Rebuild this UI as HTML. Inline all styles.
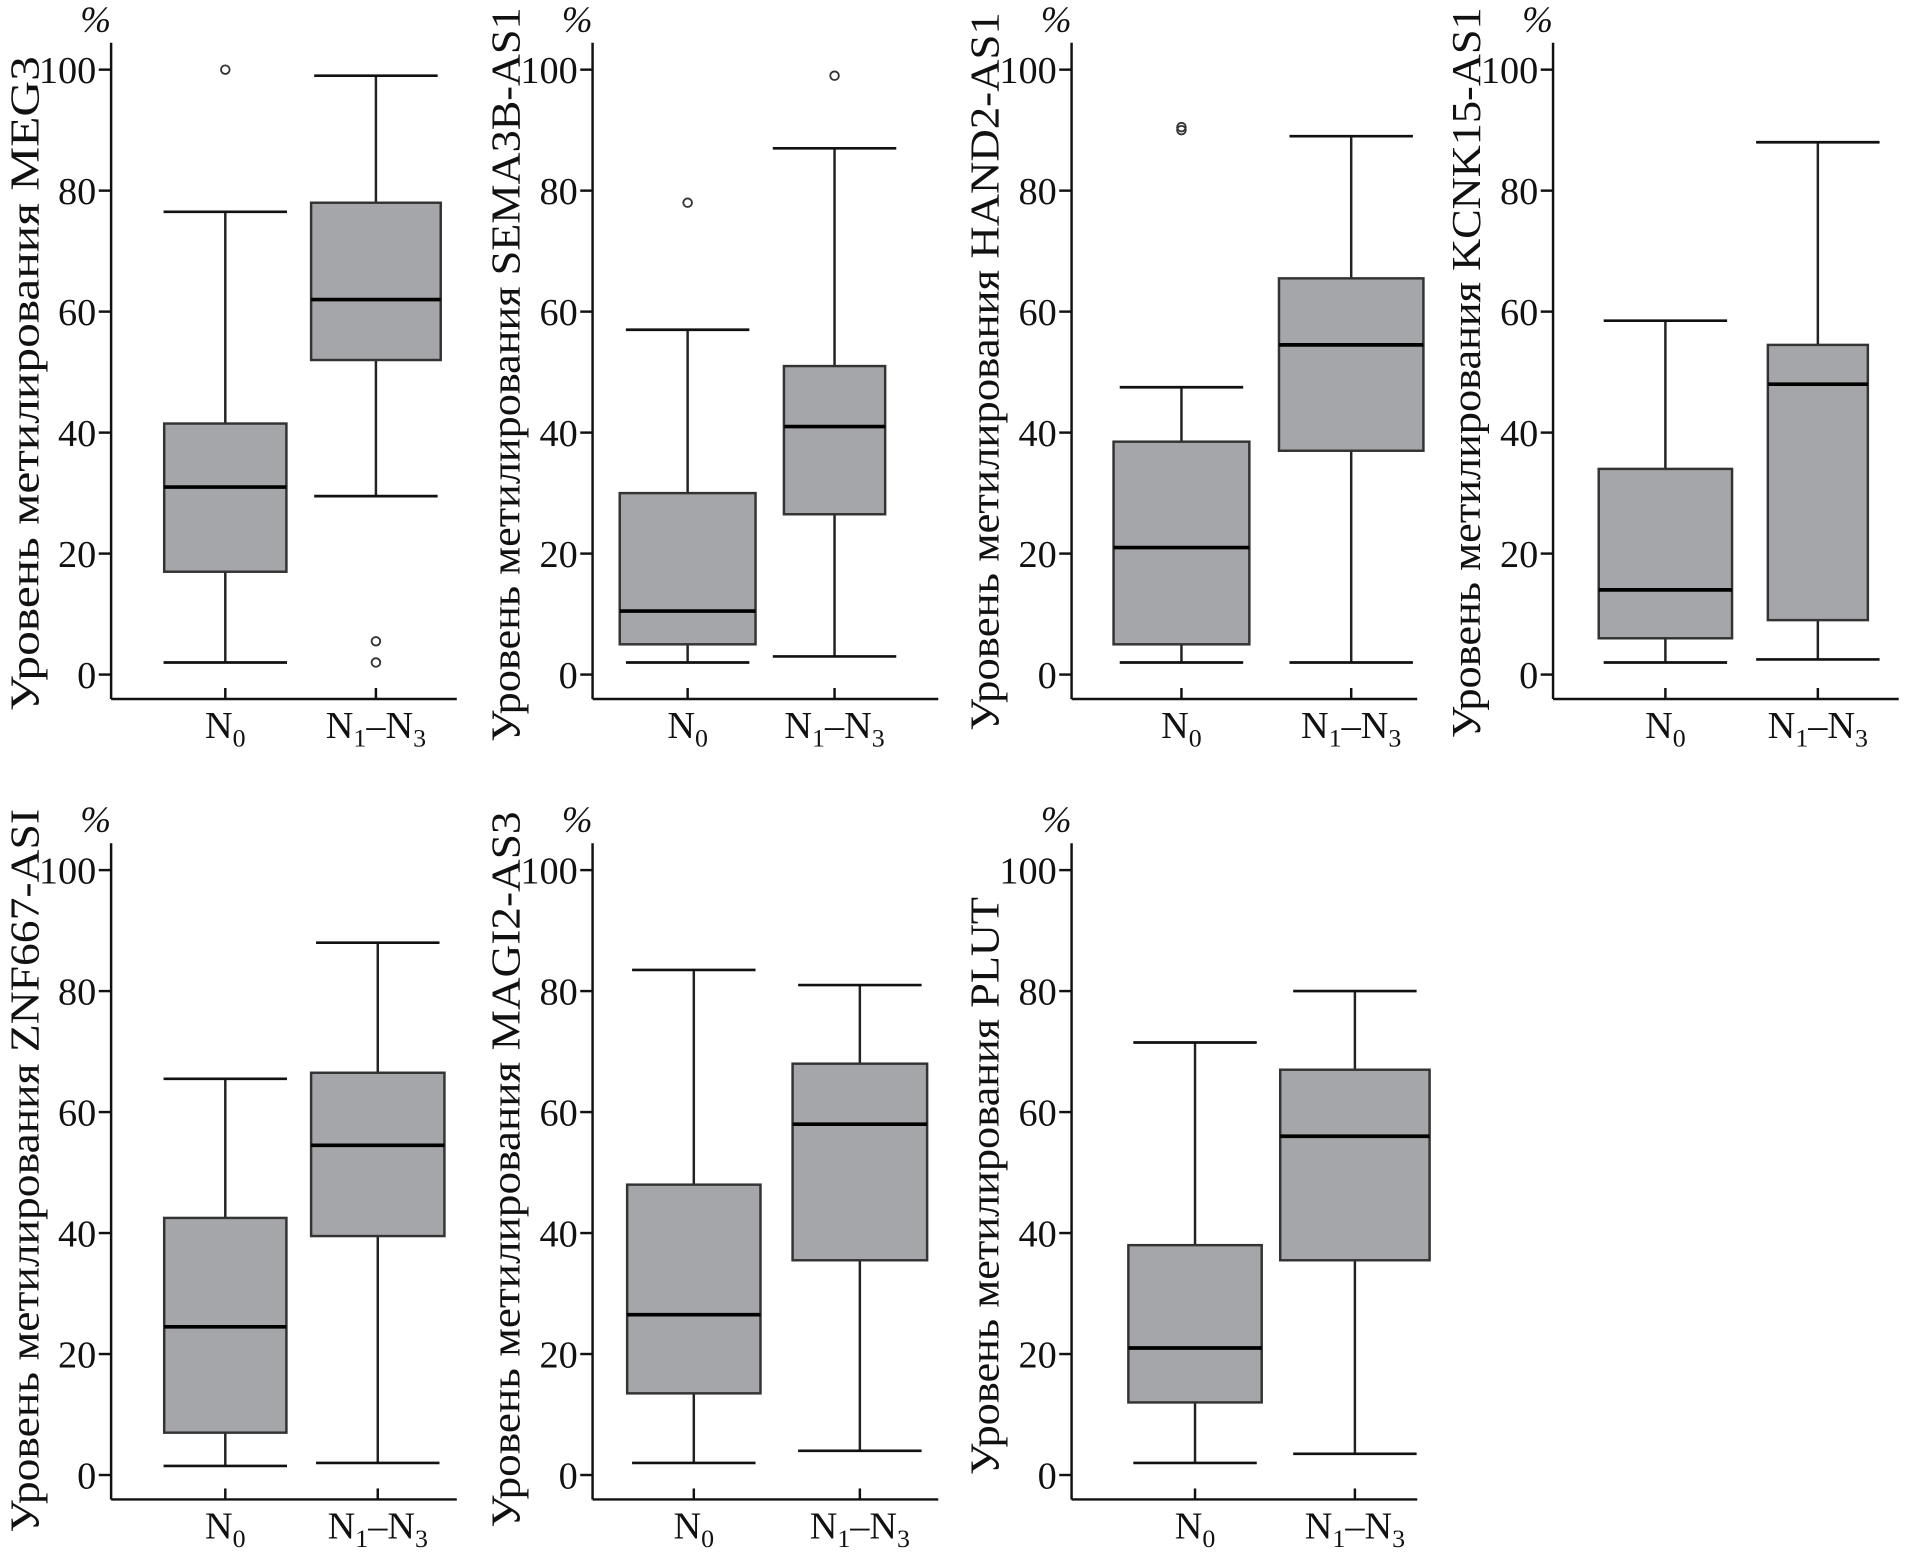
<!DOCTYPE html>
<html><head><meta charset="utf-8"><style>
html,body{margin:0;padding:0;background:#fff;}
svg{display:block;}
text{font-family:"Liberation Serif",serif;fill:#111;}
</style></head><body>
<svg id="chart" width="1916" height="1563" viewBox="0 0 1552 1279" preserveAspectRatio="none" xmlns="http://www.w3.org/2000/svg"></svg>
<script>
const genes = ["MEG3","SEMA3B-AS1","HAND2-AS1","KCNK15-AS1","ZNF667-ASI","MAGI2-AS3","PLUT"];
const categories = ["N0","N1–N3"];
// [whiskerLow, q1, median, q3, whiskerHigh] for N0 and N1-N3
const n0Stats = [[2,17,31,41.5,76.5],[2,5,10.5,30,57],[2,5,21,38.5,47.5],[2,6,14,34,58.5],[1.5,7,24.5,42.5,65.5],[2,13.5,26.5,48,83.5],[2,12,21,38,71.5]];
const n1Stats = [[29.5,52,62,78,99],[3,26.5,41,51,87],[2,37,54.5,65.5,89],[2.5,9,48,54.5,88],[2,39.5,54.5,66.5,88],[4,35.5,58,68,81],[3.5,35.5,56,67,80]];
const n0Outliers = [[100],[78],[90,90.5],[],[],[],[]];
const n1Outliers = [[5.5,2],[99],[],[],[],[],[]];
const yTicks = [0,20,40,60,80,100];

// layout (not data)
const layout = [
 {ax:90, top:0, b0:[133,232], b1:[252,357], lb:582, lt:46},
 {ax:480,top:0, b0:[502,612], b1:[635,717], lb:607, lt:6},
 {ax:868,top:0, b0:[902,1012], b1:[1036,1153], lb:598, lt:10},
 {ax:1258,top:0,b0:[1295,1403],b1:[1432,1513],lb:604, lt:6},
 {ax:90, top:655,b0:[133,232], b1:[252,360], lb:1254, lt:662},
 {ax:480,top:655,b0:[508,616], b1:[642,751], lb:1250, lt:664},
 {ax:868,top:655,b0:[914,1022],b1:[1037,1158],lb:1207, lt:734}
];
const NS="http://www.w3.org/2000/svg";
const svg=document.getElementById('chart');
function mk(tag,attrs,parent){const e=document.createElementNS(NS,tag);for(const k in attrs)e.setAttribute(k,attrs[k]);(parent||svg).appendChild(e);return e;}

genes.forEach((g,i)=>{
  const L=layout[i];
  const y=v=>L.top+552-v*4.95;
  const grp=mk('g',{});
  
  
  const ax=L.ax, bottom=L.top+572, right=ax+280;
  const ya=mk('line',{x1:ax,y1:L.top+35,x2:ax,y2:bottom,stroke:'#111','stroke-width':2},grp);
  
  
  const xa=mk('line',{x1:ax,y1:bottom,x2:right,y2:bottom,stroke:'#111','stroke-width':2},grp);
  
  
  yTicks.forEach(t=>{
    mk('line',{x1:ax-10,y1:y(t),x2:ax,y2:y(t),stroke:'#111','stroke-width':2},grp);
    const tx=mk('text',{x:ax-12,y:y(t)+11,'text-anchor':'end','font-size':31},grp);
    tx.textContent=t;
    
    
  });
  const pc=mk('text',{x:ax-25,y:L.top+26,'font-size':30,'font-style':'italic'},grp);
  pc.textContent='%';
  
  
  const yl=mk('text',{x:0,y:0,'font-size':33,textLength:L.lb-L.lt,lengthAdjust:'spacingAndGlyphs',transform:`translate(${ax-59},${L.lb}) rotate(-90)`},grp);
  yl.textContent='Уровень метилирования '+g;
  
  
  [[n0Stats[i],n0Outliers[i],L.b0,0],[n1Stats[i],n1Outliers[i],L.b1,1]].forEach(([s,outs,bx,ci])=>{
    const cx=(bx[0]+bx[1])/2, ww=50;
    const cg=mk('g',{},grp);
    
    
    mk('line',{x1:cx,y1:y(s[0]),x2:cx,y2:y(s[4]),stroke:'#222','stroke-width':2},cg);
    mk('line',{x1:cx-ww,y1:y(s[4]),x2:cx+ww,y2:y(s[4]),stroke:'#111','stroke-width':2.2},cg);
    mk('line',{x1:cx-ww,y1:y(s[0]),x2:cx+ww,y2:y(s[0]),stroke:'#111','stroke-width':2.2},cg);
    mk('rect',{x:bx[0],y:y(s[3]),width:bx[1]-bx[0],height:y(s[1])-y(s[3]),fill:'#a5a6a9',stroke:'#333','stroke-width':2},cg);
    mk('line',{x1:bx[0],y1:y(s[2]),x2:bx[1],y2:y(s[2]),stroke:'#000','stroke-width':3},cg);
    outs.forEach(o=>{
      const c=mk('circle',{cx:cx,cy:y(o),r:3.5,fill:'none',stroke:'#333','stroke-width':1.5},cg);
      
      
    });
    mk('line',{x1:cx,y1:bottom-9,x2:cx,y2:bottom,stroke:'#111','stroke-width':2},cg);
    const t=mk('text',{x:cx,y:bottom+32,'text-anchor':'middle','font-size':31},cg);
    if(ci===0){t.innerHTML='N<tspan font-size="21" dy="7">0</tspan>';}
    else{t.innerHTML='N<tspan font-size="21" dy="7">1</tspan><tspan dy="-7">–N</tspan><tspan font-size="21" dy="7">3</tspan>';}
    
    
  });
});
</script>
</body></html>
